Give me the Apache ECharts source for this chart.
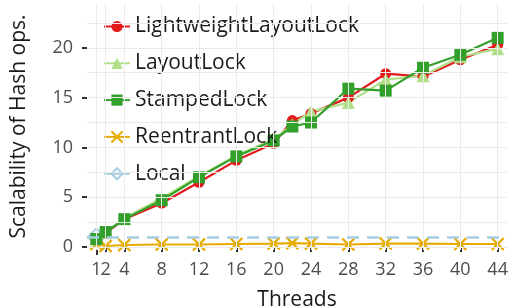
<!DOCTYPE html>
<html>
<head>
<meta charset="utf-8">
<script src="https://cdn.jsdelivr.net/npm/echarts@6/dist/echarts.min.js"></script>
<style>
  html, body { margin: 0; padding: 0; background: #fff; }
  #chart { width: 510px; height: 308px; }
</style>
</head>
<body>
<div id="chart"></div>
<script>
// thread counts and measured scalability
const threads = [1, 2, 4, 8, 12, 16, 20, 22, 24, 28, 32, 36, 40, 44];
const lightweightLayoutLock = [0.7, 1.4, 2.8, 4.4, 6.5, 8.7, 10.4, 12.7, 13.4, 15.0, 17.4, 17.1, 18.8, 20.3];
const layoutLock = [0.8, 1.5, 2.9, 4.9, 7.1, 9.2, 10.8, 12.3, 13.6, 14.5, 16.8, 17.2, 19.1, 19.9];
const stampedLock = [0.8, 1.5, 2.8, 4.7, 7.0, 9.1, 10.7, 12.1, 12.5, 15.9, 15.7, 18.0, 19.3, 21.0];
const reentrantLock = [0.3, 0.1, 0.2, 0.25, 0.25, 0.3, 0.35, 0.4, 0.35, 0.25, 0.35, 0.35, 0.3, 0.3];
const localX = [1];
const localY = [1.0];

const xTicks = [1, 2, 4, 8, 12, 16, 20, 24, 28, 32, 36, 40, 44];
const yTicks = [0, 5, 10, 15, 20];
const yMinor = [2.5, 7.5, 12.5, 17.5, 22.5];

const font = 'Open Sans';
const pairs = (ys) => threads.map((t, i) => [t, ys[i]]);
const crossPath = 'path://M0,0L10,10M10,0L0,10';

function lineSeries(name, ys, color, symbol, size, extra) {
  return Object.assign({
    name, type: 'line', data: pairs(ys),
    symbol, symbolSize: size,
    lineStyle: { color, width: 2.2 },
    itemStyle: { color },
    z: 3
  }, extra || {});
}

// "1" and "2" sit so close that echarts drops one of them as overlapping,
// so the first tick gets its own (overlaid) bottom axis
function xAxisFor(ticks, withName) {
  return {
    type: 'value', min: 0, max: 45, position: 'bottom',
    name: withName ? 'Threads' : '', nameLocation: 'middle', nameGap: 40,
    nameTextStyle: { fontFamily: font, fontSize: 21, color: '#1a1a1a' },
    axisLine: { show: false },
    splitLine: { show: false },
    axisTick: { show: true, length: 5, lineStyle: { color: '#333', width: 2 }, customValues: ticks },
    axisLabel: {
      fontFamily: font, fontSize: 18, color: '#4d4d4d', margin: 11,
      customValues: ticks, hideOverlap: false
    }
  };
}

const gridLines = [].concat(
  xTicks.map((v) => ({ xAxis: v })),
  yTicks.map((v) => ({ yAxis: v })),
  yMinor.map((v) => ({ yAxis: v }))
);

const chart = echarts.init(document.getElementById('chart'));
chart.setOption({
  animation: false,
  grid: { left: 87, right: 3, top: 3, bottom: 58, outerBoundsMode: 'none' },
  legend: {
    data: ['LightweightLayoutLock', 'LayoutLock', 'StampedLock', 'ReentrantLock', 'Local'],
    orient: 'vertical', left: 98, top: 11,
    itemWidth: 26, itemHeight: 14, itemGap: 15.8,
    textStyle: { fontFamily: font, fontSize: 21, color: '#1a1a1a' }
  },
  xAxis: [xAxisFor(xTicks.slice(1), true), xAxisFor(xTicks.slice(0, 1), false)],
  yAxis: {
    type: 'value', min: -0.3, max: 24.5,
    name: 'Scalability of Hash ops.', nameLocation: 'middle', nameGap: 57,
    nameTextStyle: { fontFamily: font, fontSize: 21, color: '#1a1a1a' },
    axisLine: { show: false },
    splitLine: { show: false },
    axisTick: { show: true, length: 5, lineStyle: { color: '#333', width: 2 }, customValues: yTicks },
    axisLabel: { fontFamily: font, fontSize: 18, color: '#4d4d4d', margin: 14, customValues: yTicks }
  },
  series: [
    {
      name: 'grid', type: 'line', data: [], z: 0, silent: true,
      markLine: {
        silent: true, symbol: ['none', 'none'], label: { show: false },
        lineStyle: { color: '#ebebeb', width: 1, type: 'solid' },
        animation: false, data: gridLines
      }
    },
    {
      name: 'Local', type: 'line', data: localX.map((x, i) => [x, localY[i]]),
      symbol: 'diamond', symbolSize: 17,
      itemStyle: { color: 'rgba(255,255,255,0)', borderColor: '#a6cee3', borderWidth: 2 },
      lineStyle: { color: '#a6cee3', width: 2.5 },
      z: 2,
      markLine: {
        silent: true, symbol: ['none', 'none'], label: { show: false },
        lineStyle: { color: '#a6cee3', width: 2.5, type: [12, 8] },
        data: [{ yAxis: localY[0] }]
      }
    },
    lineSeries('ReentrantLock', reentrantLock, '#e6ab02', crossPath, 12,
      { itemStyle: { color: '#e6ab02', borderColor: '#e6ab02', borderWidth: 2.4 } }),
    lineSeries('LightweightLayoutLock', lightweightLayoutLock, '#e31a1c', 'circle', 11),
    lineSeries('LayoutLock', layoutLock, '#b2df8a', 'triangle', 13),
    lineSeries('StampedLock', stampedLock, '#33a02c', 'rect', 12)
  ]
});
</script>
</body>
</html>
